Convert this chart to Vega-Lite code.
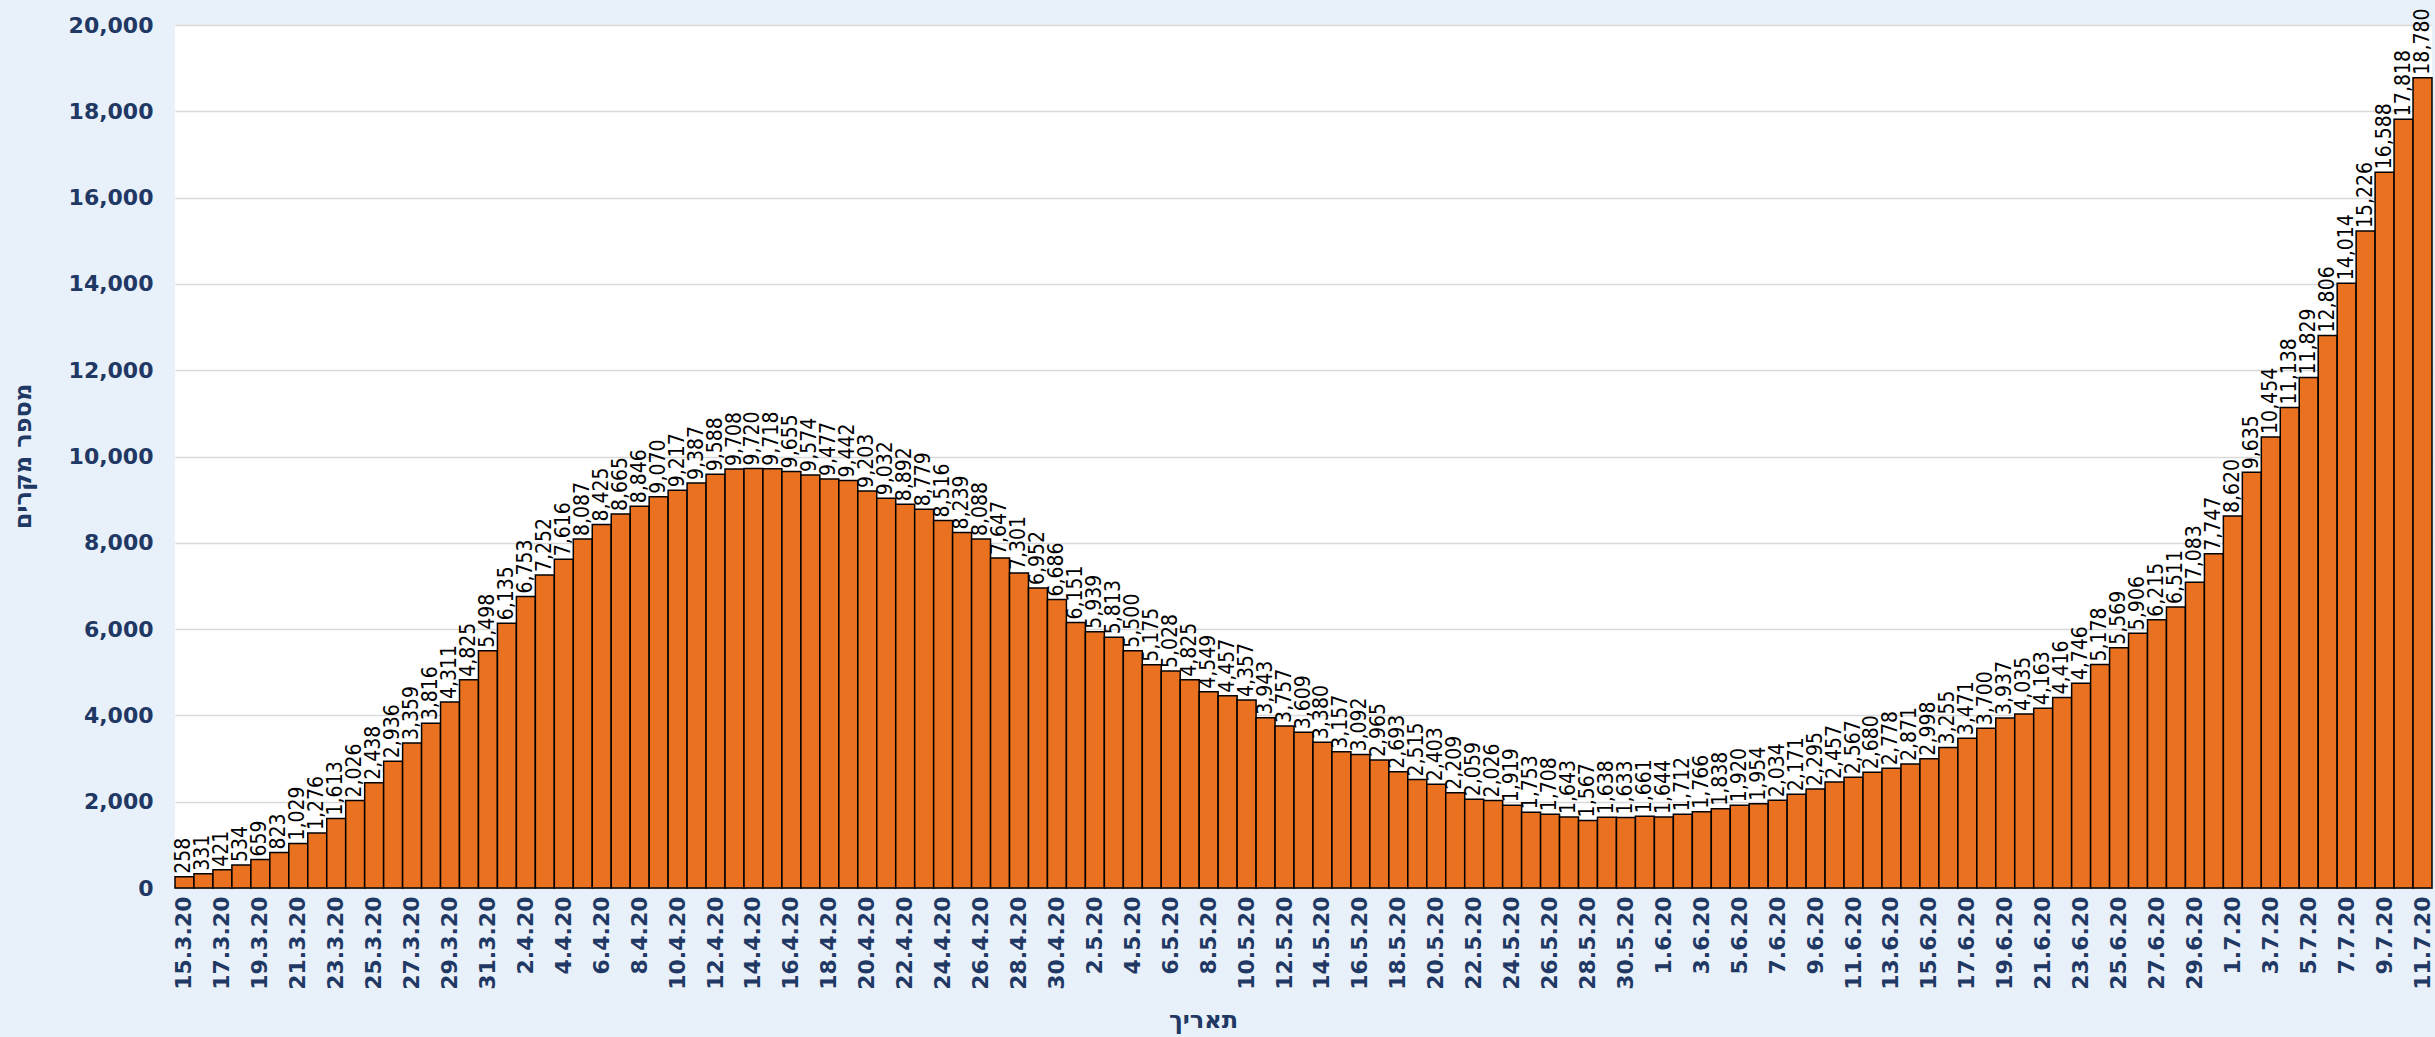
{
  "$schema": "https://vega.github.io/schema/vega-lite/v6.json",
  "width": 2257,
  "height": 863,
  "autosize": {"type": "none"},
  "padding": {"left": 175, "top": 25, "right": 3, "bottom": 149},
  "background": "#E8F0F9",
  "config": {
    "view": {"fill": "#FFFFFF", "stroke": null}
  },
  "data": {
    "values": [
      {"d": "15.3.20", "v": 258}, {"d": "16.3.20", "v": 331}, {"d": "17.3.20", "v": 421}, {"d": "18.3.20", "v": 534},
      {"d": "19.3.20", "v": 659}, {"d": "20.3.20", "v": 823}, {"d": "21.3.20", "v": 1029}, {"d": "22.3.20", "v": 1276},
      {"d": "23.3.20", "v": 1613}, {"d": "24.3.20", "v": 2026}, {"d": "25.3.20", "v": 2438}, {"d": "26.3.20", "v": 2936},
      {"d": "27.3.20", "v": 3359}, {"d": "28.3.20", "v": 3816}, {"d": "29.3.20", "v": 4311}, {"d": "30.3.20", "v": 4825},
      {"d": "31.3.20", "v": 5498},
      {"d": "1.4.20", "v": 6135}, {"d": "2.4.20", "v": 6753}, {"d": "3.4.20", "v": 7252}, {"d": "4.4.20", "v": 7616},
      {"d": "5.4.20", "v": 8087}, {"d": "6.4.20", "v": 8425}, {"d": "7.4.20", "v": 8665}, {"d": "8.4.20", "v": 8846},
      {"d": "9.4.20", "v": 9070}, {"d": "10.4.20", "v": 9217}, {"d": "11.4.20", "v": 9387}, {"d": "12.4.20", "v": 9588},
      {"d": "13.4.20", "v": 9708}, {"d": "14.4.20", "v": 9720}, {"d": "15.4.20", "v": 9718}, {"d": "16.4.20", "v": 9655},
      {"d": "17.4.20", "v": 9574}, {"d": "18.4.20", "v": 9477}, {"d": "19.4.20", "v": 9442}, {"d": "20.4.20", "v": 9203},
      {"d": "21.4.20", "v": 9032}, {"d": "22.4.20", "v": 8892}, {"d": "23.4.20", "v": 8779}, {"d": "24.4.20", "v": 8516},
      {"d": "25.4.20", "v": 8239}, {"d": "26.4.20", "v": 8088}, {"d": "27.4.20", "v": 7647}, {"d": "28.4.20", "v": 7301},
      {"d": "29.4.20", "v": 6952}, {"d": "30.4.20", "v": 6686},
      {"d": "1.5.20", "v": 6151}, {"d": "2.5.20", "v": 5939}, {"d": "3.5.20", "v": 5813}, {"d": "4.5.20", "v": 5500},
      {"d": "5.5.20", "v": 5175}, {"d": "6.5.20", "v": 5028}, {"d": "7.5.20", "v": 4825}, {"d": "8.5.20", "v": 4549},
      {"d": "9.5.20", "v": 4457}, {"d": "10.5.20", "v": 4357}, {"d": "11.5.20", "v": 3943}, {"d": "12.5.20", "v": 3757},
      {"d": "13.5.20", "v": 3609}, {"d": "14.5.20", "v": 3380}, {"d": "15.5.20", "v": 3157}, {"d": "16.5.20", "v": 3092},
      {"d": "17.5.20", "v": 2965}, {"d": "18.5.20", "v": 2693}, {"d": "19.5.20", "v": 2515}, {"d": "20.5.20", "v": 2403},
      {"d": "21.5.20", "v": 2209}, {"d": "22.5.20", "v": 2059}, {"d": "23.5.20", "v": 2026}, {"d": "24.5.20", "v": 1919},
      {"d": "25.5.20", "v": 1753}, {"d": "26.5.20", "v": 1708}, {"d": "27.5.20", "v": 1643}, {"d": "28.5.20", "v": 1567},
      {"d": "29.5.20", "v": 1638}, {"d": "30.5.20", "v": 1633}, {"d": "31.5.20", "v": 1661},
      {"d": "1.6.20", "v": 1644}, {"d": "2.6.20", "v": 1712}, {"d": "3.6.20", "v": 1766}, {"d": "4.6.20", "v": 1838},
      {"d": "5.6.20", "v": 1920}, {"d": "6.6.20", "v": 1954}, {"d": "7.6.20", "v": 2034}, {"d": "8.6.20", "v": 2171},
      {"d": "9.6.20", "v": 2295}, {"d": "10.6.20", "v": 2457}, {"d": "11.6.20", "v": 2567}, {"d": "12.6.20", "v": 2680},
      {"d": "13.6.20", "v": 2778}, {"d": "14.6.20", "v": 2871}, {"d": "15.6.20", "v": 2998}, {"d": "16.6.20", "v": 3255},
      {"d": "17.6.20", "v": 3471}, {"d": "18.6.20", "v": 3700}, {"d": "19.6.20", "v": 3937}, {"d": "20.6.20", "v": 4035},
      {"d": "21.6.20", "v": 4163}, {"d": "22.6.20", "v": 4416}, {"d": "23.6.20", "v": 4746}, {"d": "24.6.20", "v": 5178},
      {"d": "25.6.20", "v": 5569}, {"d": "26.6.20", "v": 5906}, {"d": "27.6.20", "v": 6215}, {"d": "28.6.20", "v": 6511},
      {"d": "29.6.20", "v": 7083}, {"d": "30.6.20", "v": 7747},
      {"d": "1.7.20", "v": 8620}, {"d": "2.7.20", "v": 9635}, {"d": "3.7.20", "v": 10454}, {"d": "4.7.20", "v": 11138},
      {"d": "5.7.20", "v": 11829}, {"d": "6.7.20", "v": 12806}, {"d": "7.7.20", "v": 14014}, {"d": "8.7.20", "v": 15226},
      {"d": "9.7.20", "v": 16588}, {"d": "10.7.20", "v": 17818}, {"d": "11.7.20", "v": 18780}
    ]
  },
  "encoding": {
    "x": {
      "field": "d",
      "type": "ordinal",
      "sort": null,
      "scale": {"paddingInner": 0, "paddingOuter": 0},
      "axis": {
        "title": "תאריך",
        "titleFont": "DejaVu Sans",
        "titleFontSize": 24,
        "titleFontWeight": "bold",
        "titleColor": "#1F3864",
        "titleX": 1028,
        "titleY": 132,
        "titleBaseline": "middle",
        "titleAlign": "center",
        "labelAngle": 270,
        "labelFont": "DejaVu Sans",
        "labelFontSize": 22,
        "labelFontWeight": "bold",
        "labelColor": "#1F3864",
        "labelPadding": 8,
        "ticks": false,
        "domainColor": "#BFBFBF",
        "labelOverlap": false,
        "values": ["15.3.20","17.3.20","19.3.20","21.3.20","23.3.20","25.3.20","27.3.20","29.3.20","31.3.20",
                   "2.4.20","4.4.20","6.4.20","8.4.20","10.4.20","12.4.20","14.4.20","16.4.20","18.4.20","20.4.20","22.4.20","24.4.20","26.4.20","28.4.20","30.4.20",
                   "2.5.20","4.5.20","6.5.20","8.5.20","10.5.20","12.5.20","14.5.20","16.5.20","18.5.20","20.5.20","22.5.20","24.5.20","26.5.20","28.5.20","30.5.20",
                   "1.6.20","3.6.20","5.6.20","7.6.20","9.6.20","11.6.20","13.6.20","15.6.20","17.6.20","19.6.20","21.6.20","23.6.20","25.6.20","27.6.20","29.6.20",
                   "1.7.20","3.7.20","5.7.20","7.7.20","9.7.20","11.7.20"]
      }
    },
    "y": {
      "field": "v",
      "type": "quantitative",
      "scale": {"domain": [0, 20000], "nice": false},
      "axis": {
        "title": "מספר מקרים",
        "titleFont": "DejaVu Sans",
        "titleFontSize": 24,
        "titleFontWeight": "bold",
        "titleColor": "#1F3864",
        "titleAngle": 270,
        "titleX": -152,
        "titleY": 431,
        "titleBaseline": "middle",
        "titleAlign": "center",
        "values": [0, 2000, 4000, 6000, 8000, 10000, 12000, 14000, 16000, 18000, 20000],
        "format": ",d",
        "labelFont": "DejaVu Sans",
        "labelFontSize": 22,
        "labelFontWeight": "bold",
        "labelColor": "#1F3864",
        "labelPadding": 22,
        "ticks": false,
        "domain": false,
        "gridColor": "#D9D9D9",
        "gridWidth": 1.5
      }
    }
  },
  "layer": [
    {
      "mark": {"type": "bar", "color": "#E97120", "stroke": "#000000", "strokeWidth": 1.5}
    },
    {
      "mark": {
        "type": "text",
        "angle": 270,
        "align": "left",
        "baseline": "middle",
        "dx": 3,
        "font": "DejaVu Sans Condensed, Liberation Sans, sans-serif",
        "fontSize": 21,
        "color": "#000000"
      },
      "encoding": {
        "text": {"field": "v", "type": "quantitative", "format": ",d"}
      }
    }
  ]
}
